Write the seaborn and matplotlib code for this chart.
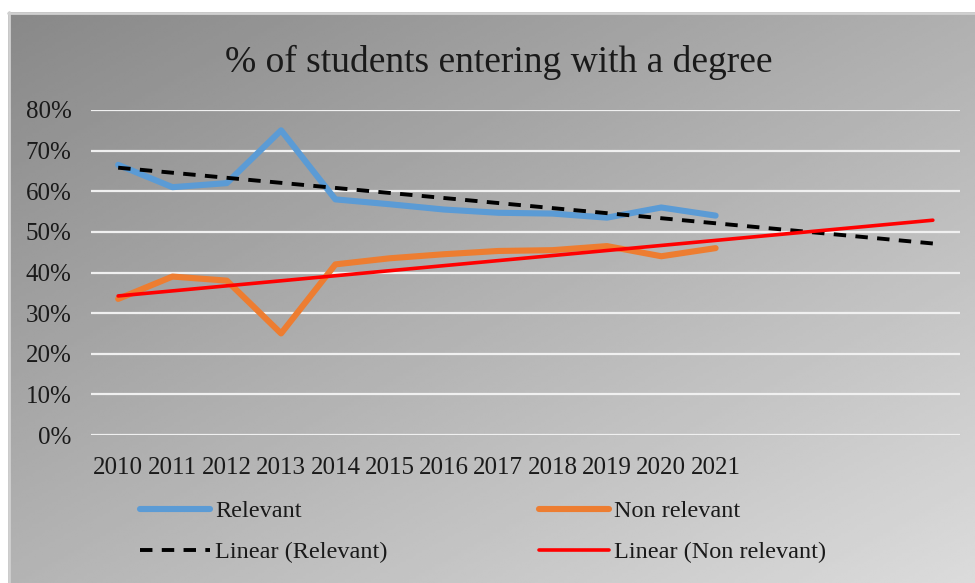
import numpy as np
import pandas as pd
import matplotlib
matplotlib.use("Agg")
import matplotlib.pyplot as plt
import seaborn as sns
from matplotlib.lines import Line2D
from matplotlib.ticker import PercentFormatter

# ---- data -------------------------------------------------------------
years = ["2010", "2011", "2012", "2013", "2014", "2015",
         "2016", "2017", "2018", "2019", "2020", "2021"]
relevant = [0.665, 0.61, 0.62, 0.75, 0.58, 0.568,
            0.555, 0.547, 0.545, 0.535, 0.56, 0.54]
non_relevant = [0.335, 0.39, 0.38, 0.25, 0.42, 0.435,
                0.445, 0.453, 0.455, 0.465, 0.44, 0.46]
forecast_periods = 4  # trendlines projected forward this many periods

series_names = ["Relevant", "Non relevant"]
colors = {"Relevant": "#5B9BD5", "Non relevant": "#ED7D31"}

pos = np.arange(len(years))
df = pd.DataFrame({
    "pos": np.concatenate([pos, pos]),
    "share": relevant + non_relevant,
    "series": ["Relevant"] * len(years) + ["Non relevant"] * len(years),
})

# linear trendlines (least squares) with forward forecast
trend_x = np.arange(len(years) + forecast_periods)
trend_rel = np.polyval(np.polyfit(pos, relevant, 1), trend_x)
trend_non = np.polyval(np.polyfit(pos, non_relevant, 1), trend_x)

# ---- styling ----------------------------------------------------------
sns.set_theme(style="white")
plt.rcParams["font.family"] = ["Liberation Serif", "DejaVu Serif"]
text_color = "#1a1a1a"

fig = plt.figure(figsize=(9.75, 5.83), dpi=100)
fig.patch.set_facecolor("white")

# gradient chart-area background
bg = fig.add_axes([8 / 975, 0, 967 / 975, 571 / 583])
bg.axis("off")
gy, gx = np.mgrid[0:1:200j, 0:1:300j]
shade = 0.535 + 0.155 * gx + 0.17 * gy
bg.imshow(shade, cmap="gray", vmin=0, vmax=1, extent=[0, 1, 0, 1],
          origin="upper", aspect="auto", interpolation="bilinear")
bg.plot([0, 1, 1], [0.999, 0.999, 0.999], color="#d0d0d0", lw=2,
        transform=bg.transAxes, clip_on=False)
bg.plot([0.001, 0.001], [0, 1], color="#d0d0d0", lw=2,
        transform=bg.transAxes, clip_on=False)

ax = fig.add_axes([91 / 975, 1 - 435 / 583, 869 / 975, 325 / 583])
ax.patch.set_alpha(0)

sns.lineplot(data=df, x="pos", y="share", hue="series",
             hue_order=series_names, palette=colors, lw=4.4,
             legend=False, ax=ax, zorder=3)
sns.lineplot(x=trend_x, y=trend_rel, color="black", lw=2.8,
             ax=ax, zorder=4)
ax.lines[-1].set_dashes((3.2, 2.4))
sns.lineplot(x=trend_x, y=trend_non, color="#FF0000", lw=2.6,
             ax=ax, zorder=4)

ax.set_xlim(-0.5, len(trend_x) - 0.5)
ax.set_ylim(0, 0.8)
ax.set_yticks(np.arange(0, 0.81, 0.1))
ax.yaxis.set_major_formatter(PercentFormatter(1.0, decimals=0))
ax.set_xticks(pos)
ax.set_xticklabels(years)
ax.set_xlabel("")
ax.set_ylabel("")
ax.tick_params(axis="y", length=0, pad=14, labelsize=18, labelcolor=text_color)
ax.tick_params(axis="x", length=0, pad=16, labelsize=18, labelcolor=text_color)
ax.grid(axis="y", color="#f0f0f0", lw=1.6, zorder=1)
ax.grid(axis="x", visible=False)
for sp in ax.spines.values():
    sp.set_visible(False)

fig.text(499 / 975, 1 - 72 / 583, "% of students entering with a degree",
         ha="center", va="baseline", fontsize=27, color=text_color)

handles = [
    Line2D([], [], color=colors["Relevant"], lw=4.4),
    Line2D([], [], color="black", lw=2.8, dashes=(3.2, 2.4)),
    Line2D([], [], color=colors["Non relevant"], lw=4.4),
    Line2D([], [], color="#FF0000", lw=2.6),
]
labels = ["Relevant", "Linear (Relevant)", "Non relevant", "Linear (Non relevant)"]
fig.legend(handles, labels, ncol=2, loc="upper left",
           bbox_to_anchor=(140 / 975, 1 - 500 / 583), frameon=False,
           fontsize=17.5, handlelength=2.9, handletextpad=0.2,
           columnspacing=6.2, labelspacing=0.8, borderpad=0,
           borderaxespad=0, labelcolor=text_color)

fig.savefig("out.png", dpi=100, facecolor="white")
